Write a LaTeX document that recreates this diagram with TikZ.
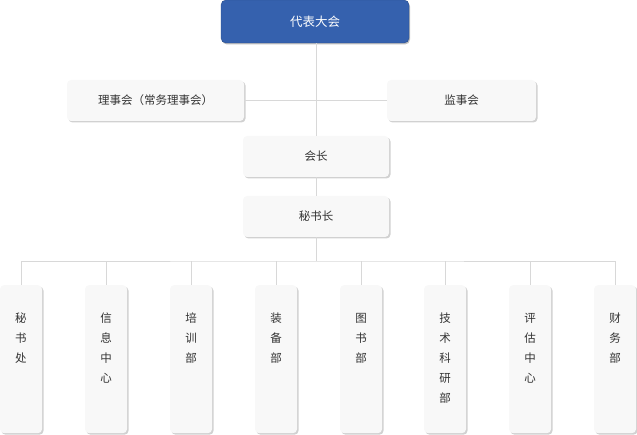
\documentclass[tikz,border=0pt]{standalone}
\usepackage{fontspec}
\setmainfont{Noto Sans CJK SC}
\usetikzlibrary{shadows}
\definecolor{topblue}{HTML}{3561AE}
\definecolor{boxfill}{HTML}{F8F8F8}
\definecolor{txt}{HTML}{333333}
\definecolor{ln}{HTML}{D8D8D8}
\tikzset{
  x=1pt,y=-1pt,
  box/.style={rectangle,rounded corners=4pt,fill=boxfill,text=txt,font=\fontsize{11.5}{14}\selectfont,
    drop shadow={shadow xshift=1.5pt,shadow yshift=-1.5pt,fill=black!18,opacity=1},inner sep=0pt},
  topbox/.style={rectangle,rounded corners=5pt,fill=topblue,draw=topblue!80!black,text=white,font=\fontsize{12.5}{15}\selectfont,inner sep=0pt,
    drop shadow={shadow xshift=1pt,shadow yshift=-1.5pt,fill=black!25,opacity=1}},
  vbox/.style={box,minimum width=42pt,minimum height=148pt,align=center,font=\fontsize{11.5}{20}\selectfont},
  conn/.style={draw=ln,line width=0.8pt}
}
\begin{document}
\begin{tikzpicture}
\useasboundingbox (0,0) rectangle (637,435);
\node[topbox,minimum width=188pt,minimum height=43pt] (top) at (315,21.5) {代表大会};
\node[box,minimum width=177pt,minimum height=41pt] (lsh) at (155.5,100.5) {理事会（常务理事会）};
\node[box,minimum width=149pt,minimum height=41pt] (jsh) at (461.5,100.5) {监事会};
\node[box,minimum width=146pt,minimum height=41pt] (hz) at (316,156.5) {会长};
\node[box,minimum width=146pt,minimum height=41pt] (msz) at (316,216.5) {秘书长};
\coordinate (mid) at (316,103);
\coordinate (bar) at (316,261);
\foreach \n/\x/\t in {b1/21/秘\\书\\处, b2/106/信\\息\\中\\心, b3/191/培\\训\\部, b4/276/装\\备\\部, b5/361/图\\书\\部, b6/445/技\\术\\科\\研\\部, b7/530/评\\估\\中\\心, b8/615/财\\务\\部}{
  \node[vbox,anchor=north,text depth=] (\n) at (\x,285) {\raisebox{0pt}{\parbox[t][136pt][t]{20pt}{\centering\vspace{22pt}\t}}};
}
\begin{scope}[on background layer/.style={}]
\end{scope}
\draw[conn] (lsh.east) -- (jsh.west);
\draw[conn] (top.south -| mid) -- (hz.north -| mid);
\draw[conn] (hz) -- (msz);
\draw[conn] (msz.south) -- (bar);
\draw[conn] (b1.north) |- (bar) -| (b8.north);
\foreach \n in {b2,b3,b4,b5,b6,b7}{\draw[conn] (\n.north) -- (\n.north |- bar);}
\end{tikzpicture}
\end{document}
